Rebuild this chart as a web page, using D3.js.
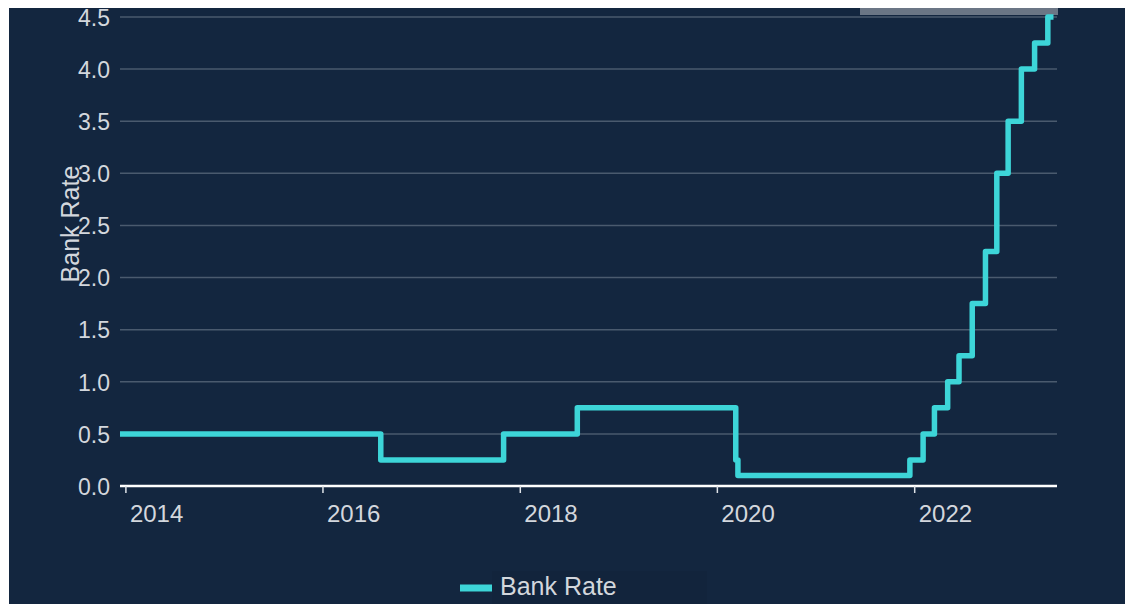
<!DOCTYPE html>
<html>
<head>
<meta charset="utf-8">
<script src="https://cdn.jsdelivr.net/npm/d3@7"></script>
<style>
  html, body { margin: 0; padding: 0; background: #ffffff; }
  svg { display: block; }
  text { font-family: "Liberation Sans", Arial, sans-serif; }
</style>
</head>
<body>
<script>
// Bank Rate change dates and the rate that applied from each date
var rateDates = ['2013-12-12', '2016-08-04', '2017-11-02', '2018-08-02', '2020-03-11', '2020-03-19',
    '2021-12-16', '2022-02-03', '2022-03-17', '2022-05-05', '2022-06-16', '2022-08-04',
    '2022-09-22', '2022-11-03', '2022-12-15', '2023-02-02', '2023-03-23', '2023-05-11', '2023-06-01'];
var rateValues = [0.5, 0.25, 0.5, 0.75, 0.25, 0.1,
    0.25, 0.5, 0.75, 1.0, 1.25, 1.75,
    2.25, 3.0, 3.5, 4.0, 4.25, 4.5, 4.5];
var yTicks = [0, 0.5, 1, 1.5, 2, 2.5, 3, 3.5, 4, 4.5];
var xTickYears = [2014, 2016, 2018, 2020, 2022];
var seriesName = 'Bank Rate';

var _width = 1125,
    _height = 604,
    _margin = {top: 17, right: 68, bottom: 118, left: 120};

var parse = d3.timeParse('%Y-%m-%d');
var data = rateDates.map(function(d, i){
    return {date: parse(d), value: rateValues[i]};
});

var svg = d3.select('body').append('svg')
    .attr('width', _width)
    .attr('height', _height);

// white frame on top / left, navy panel
svg.append('rect').attr('x', 9).attr('y', 8)
    .attr('width', _width - 9).attr('height', _height - 8)
    .attr('fill', '#13263f');

var x = d3.scaleTime()
    .domain([parse('2013-12-12'), parse('2023-06-14')])
    .range([_margin.left, _width - _margin.right]);

var y = d3.scaleLinear()
    .domain([0, 4.5])
    .range([_height - _margin.bottom, _margin.top]);

// grid
svg.append('g').selectAll('line').data(yTicks.slice(1)).enter().append('line')
    .attr('x1', x.range()[0]).attr('x2', x.range()[1])
    .attr('y1', function(d){ return y(d); })
    .attr('y2', function(d){ return y(d); })
    .attr('stroke', '#4a5a6e')
    .attr('stroke-width', 1.5);

// grey strip at the top right
svg.append('rect')
    .attr('x', 860).attr('y', 8)
    .attr('width', 198).attr('height', 7)
    .attr('fill', '#6b7685');

// y axis labels
var yAxis = d3.axisLeft(y).tickValues(yTicks).tickFormat(d3.format('.1f')).tickSize(0).tickPadding(10);
var gy = svg.append('g')
    .attr('transform', 'translate(' + _margin.left + ',0)')
    .call(yAxis);
gy.select('.domain').remove();
gy.selectAll('text')
    .attr('fill', '#d3d7dd')
    .style('font-size', '23px')
    .attr('dy', '0.36em');

// x axis
var xAxis = d3.axisBottom(x)
    .tickValues(xTickYears.map(function(yr){ return new Date(yr, 0, 1); }))
    .tickFormat(d3.timeFormat('%Y'))
    .tickSize(7).tickPadding(12);
var gx = svg.append('g')
    .attr('transform', 'translate(0,' + y(0) + ')')
    .call(xAxis);
gx.select('.domain')
    .attr('d', 'M' + x.range()[0] + ',0H' + x.range()[1])
    .attr('stroke', '#ffffff')
    .attr('stroke-width', 2.5);
gx.selectAll('.tick line').attr('stroke', '#dfe3e8').attr('stroke-width', 1.5);
gx.selectAll('.tick text')
    .attr('fill', '#d3d7dd')
    .attr('text-anchor', 'start')
    .attr('dx', '4')
    .style('font-size', '24px');

// y axis title (sits over the tick labels, as in the original)
svg.append('text')
    .attr('transform', 'translate(79,224) rotate(-90)')
    .attr('text-anchor', 'middle')
    .attr('fill', '#d3d7dd')
    .style('font-size', '25px')
    .text(seriesName);

// the step line
var line = d3.line()
    .x(function(d){ return x(d.date); })
    .y(function(d){ return y(d.value); })
    .curve(d3.curveStepAfter);

svg.append('path')
    .datum(data)
    .attr('d', line)
    .attr('fill', 'none')
    .attr('stroke', '#3dd5d8')
    .attr('stroke-width', 5.5)
    .attr('stroke-linejoin', 'round');

// legend
var lg = svg.append('g').attr('transform', 'translate(460,588)');
lg.append('rect').attr('x', 32).attr('y', -17).attr('width', 215).attr('height', 33).attr('fill', '#12243c');
lg.append('line').attr('x1', 0).attr('x2', 32).attr('y1', 0).attr('y2', 0)
    .attr('stroke', '#3dd5d8').attr('stroke-width', 7);
lg.append('text').attr('x', 40).attr('y', 7)
    .attr('fill', '#d3d7dd')
    .style('font-size', '25px')
    .text(seriesName);
</script>
</body>
</html>
